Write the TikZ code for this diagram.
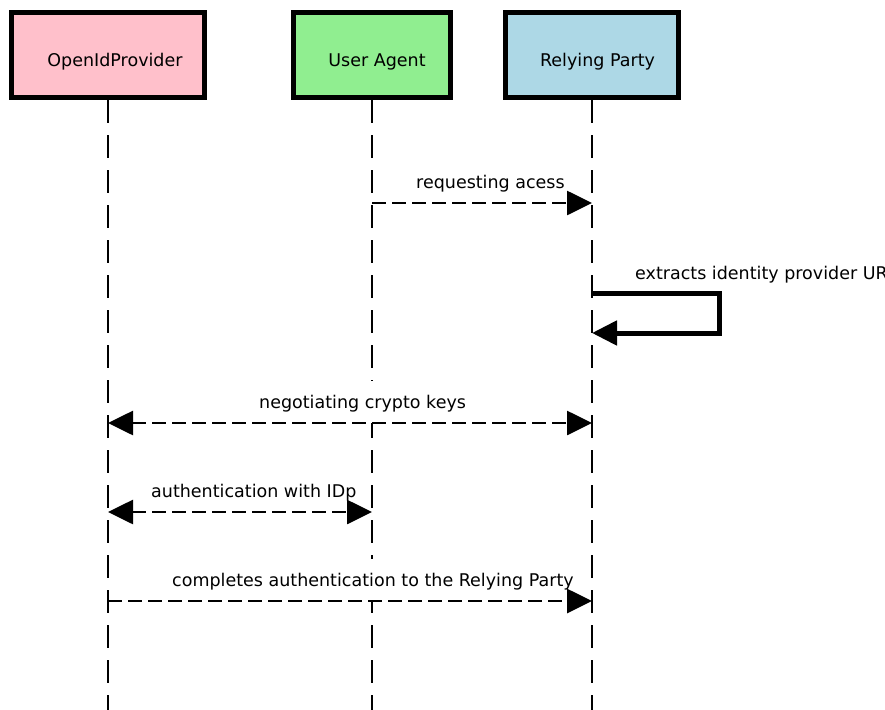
\documentclass[tikz,border=0pt]{standalone}
\usepackage{fontspec}
\setmainfont{DejaVu Sans}
\usetikzlibrary{arrows.meta}
\definecolor{opfill}{RGB}{255,192,203}
\definecolor{uafill}{RGB}{144,238,144}
\definecolor{rpfill}{RGB}{173,216,230}

\begin{document}
\begin{tikzpicture}[x=1pt,y=1pt,
  every node/.style={font=\fontsize{17.5}{21}\selectfont},
  actor/.style={draw, line width=5pt, minimum height=85pt, inner sep=0pt},
  title/.style={anchor=base, inner sep=0pt},
  lifeline/.style={line width=2.8pt, dash pattern=on 23pt off 12pt},
  msglabel/.style={anchor=south west, fill=white, inner xsep=2pt, inner ysep=0pt,
                   text height=27.5pt, text depth=14pt},
  msg/.style={line width=2.7pt, dash pattern=on 14pt off 6pt},
  onetip/.style={-{Triangle[length=25pt,width=24pt]}},
  twotips/.style={{Triangle[length=25pt,width=24pt]}-{Triangle[length=25pt,width=24pt]}},
  selfmsg/.style={line width=5pt, -{Triangle[length=25pt,width=24pt]}}
]
\useasboundingbox (0,0) rectangle (885,-709);
\clip (0,0) rectangle (885,-709);

% participants
\node[actor, fill=opfill, minimum width=193pt]   (op) at (108,-55) {};
\node[actor, fill=uafill, minimum width=157pt]   (ua) at (372,-55) {};
\node[actor, fill=rpfill, minimum width=173.5pt] (rp) at (592,-55) {};

% message levels and page bottom
\coordinate (bottom) at (0,-712);
\coordinate (y1) at (0,-203);
\coordinate (y2a) at (0,-293.5);
\coordinate (y2b) at (0,-333);
\coordinate (y3) at (0,-423);
\coordinate (y4) at (0,-512);
\coordinate (y5) at (0,-601);
\coordinate (loopx) at (719,0);

% lifelines
\draw[lifeline] (op.south) -- (op.south |- bottom);
\draw[lifeline] (ua.south) -- (ua.south |- bottom);
\draw[lifeline] (rp.south) -- (rp.south |- bottom);

% boxes drawn again over the lifeline tops
\node[actor, fill=opfill, minimum width=193pt]   at (op) {};
\node[actor, fill=uafill, minimum width=157pt]   at (ua) {};
\node[actor, fill=rpfill, minimum width=173.5pt] at (rp) {};

% titles
\node[title] (opt) at (115,-66.7) {OpenIdProvider};
\node[title] (uat) at (377,-66.7) {User Agent};
\node[title] (rpt) at (597.5,-66.7) {Relying Party};

% message labels
\node[msglabel] (l1) at (414,-203) {requesting acess};
\node[msglabel] (l2) at (633,-293.5) {extracts identity provider URL};
\node[msglabel] (l3) at (257,-423) {negotiating crypto keys};
\node[msglabel] (l4) at (149,-512) {authentication with IDp};
\node[msglabel] (l5) at (170,-601) {completes authentication to the Relying Party};

% message points on the lifelines
\coordinate (m1a) at (ua |- y1);
\coordinate (m1b) at (rp |- y1);
\coordinate (m2a) at (rp |- y2a);
\coordinate (m2b) at (loopx |- y2a);
\coordinate (m2c) at (loopx |- y2b);
\coordinate (m2d) at (rp |- y2b);
\coordinate (m3a) at (op |- y3);
\coordinate (m3b) at (rp |- y3);
\coordinate (m4a) at (op |- y4);
\coordinate (m4b) at (ua |- y4);
\coordinate (m5a) at (op |- y5);
\coordinate (m5b) at (rp |- y5);

% messages
\draw[msg, onetip] (m1a) -- (m1b);
\draw[selfmsg] (m2a) -- (m2b) -- (m2c) -- (m2d);
\draw[msg, twotips] (m3a) -- (m3b);
\draw[msg, twotips] (m4a) -- (m4b);
\draw[msg, onetip] (m5a) -- (m5b);
\end{tikzpicture}
\end{document}
